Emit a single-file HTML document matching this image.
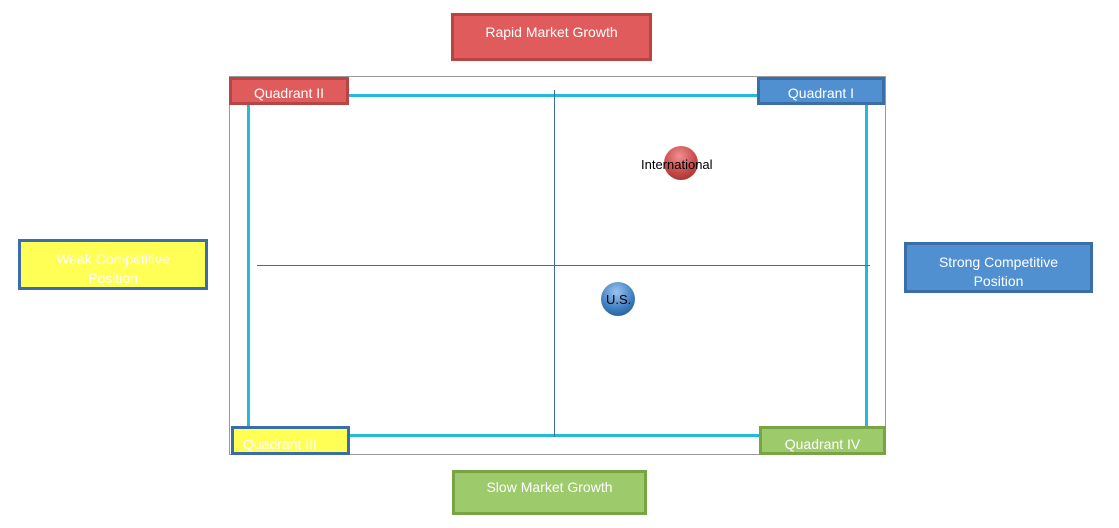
<!DOCTYPE html>
<html><head><style>
body{margin:0;width:1119px;height:528px;background:#fff;position:relative;overflow:hidden;font-family:"Liberation Sans",sans-serif}
.b{position:absolute;box-sizing:border-box;border:3px solid;color:#fff;font-size:14px;text-align:center;line-height:16px;white-space:nowrap}
.r{background:#e05b5b;border-color:#b84444}
.bl{background:#5090d0;border-color:#3b6ea8}
.y{background:#ffff55;border-color:#3b6ea8}
.g{background:#9dca6a;border-color:#78a444}
.l{position:absolute}
</style></head><body>
<div class="l" style="left:229px;top:76px;width:657px;height:379px;border:1px solid #999;box-sizing:border-box"></div>
<div class="l" style="left:248px;top:94px;width:620px;height:3px;background:#22bcd6"></div>
<div class="l" style="left:248px;top:434px;width:620px;height:3px;background:#22bcd6"></div>
<div class="l" style="left:247px;top:94px;width:3px;height:343px;background:#22bcd6"></div>
<div class="l" style="left:865px;top:94px;width:3px;height:343px;background:#22bcd6"></div>
<div class="l" style="left:554px;top:90px;width:1px;height:347px;background:#3a6ea5"></div>
<div class="l" style="left:257px;top:265px;width:613px;height:1px;background:#3a6ea5"></div>
<div class="b r" style="left:451px;top:13px;width:201px;height:48px;padding-top:8px">Rapid Market Growth</div>
<div class="b r" style="left:229px;top:77px;width:120px;height:28px;padding-top:5px">Quadrant II</div>
<div class="b bl" style="left:757px;top:77px;width:128px;height:28px;padding-top:5px">Quadrant I</div>
<div class="b y" style="left:18px;top:239px;width:190px;height:51px;padding-top:8px;line-height:19px">Weak Competitive<br>Position</div>
<div class="b bl" style="left:904px;top:242px;width:189px;height:51px;padding-top:8px;line-height:19px">Strong Competitive<br>Position</div>
<div class="b y" style="left:231px;top:426px;width:119px;height:29px;padding-top:7px;text-align:left;padding-left:9px">Quadrant III</div>
<div class="b g" style="left:759px;top:426px;width:127px;height:29px;padding-top:7px">Quadrant IV</div>
<div class="b g" style="left:452px;top:470px;width:195px;height:45px;padding-top:6px">Slow Market Growth</div>
<div class="l" style="left:664px;top:146px;width:34px;height:34px;border-radius:50%;background:radial-gradient(circle at 45% 30%,#f09090,#c84848 55%,#8a2a2a)"></div>
<div class="l" style="left:601px;top:282px;width:34px;height:34px;border-radius:50%;background:radial-gradient(circle at 45% 30%,#9cc4ee,#3f7fc0 55%,#1e4a7a)"></div>
<div class="l" style="left:641px;top:157px;font-size:13px;color:#000">International</div>
<div class="l" style="left:606px;top:292px;font-size:13px;color:#000">U.S.</div>
</body></html>
